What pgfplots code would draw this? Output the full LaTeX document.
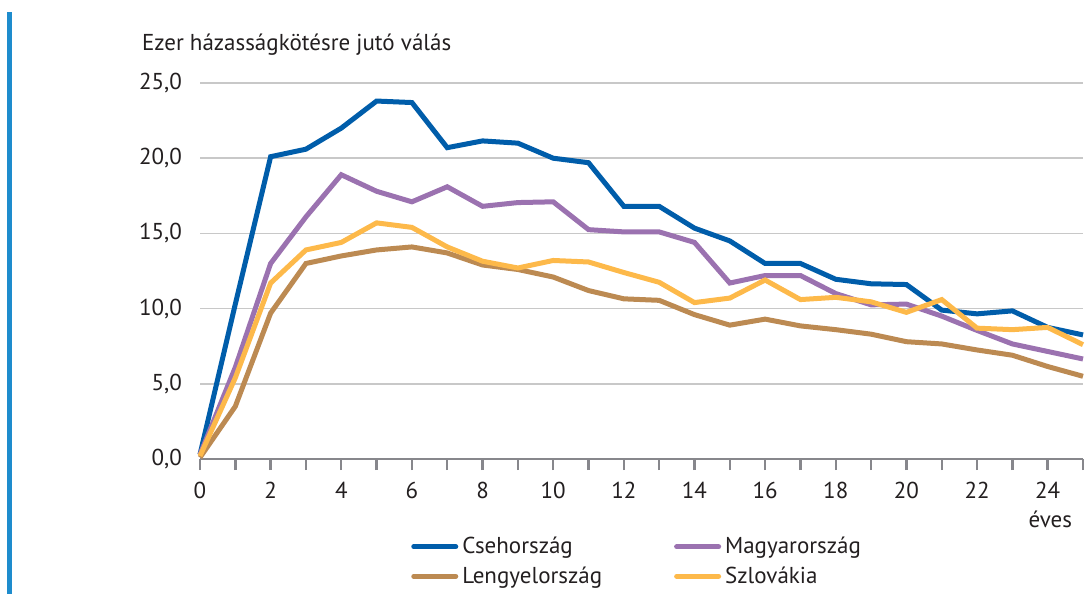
\documentclass[border=0pt]{standalone}
\usepackage{fontspec}
\setmainfont{PT Sans}
\usepackage{pgfplots}
\pgfplotsset{compat=1.18}
\usepackage{pgfplotstable}

\definecolor{cz}{RGB}{0,93,170}
\definecolor{hu}{RGB}{155,114,176}
\definecolor{pl}{RGB}{188,138,82}
\definecolor{sk}{RGB}{253,185,74}
\definecolor{gridgray}{RGB}{200,200,200}
\definecolor{axgray}{RGB}{135,135,140}
\definecolor{txt}{RGB}{35,31,32}
\definecolor{barblue}{RGB}{30,140,205}

% ev, Csehorszag, Magyarorszag, Lengyelorszag, Szlovakia
\pgfplotstableread{
x  cz    hu    pl    sk
0  0.3   0.3   0.1   0.2
1  10.3  6.1   3.5   5.4
2  20.1  13.0  9.7   11.7
3  20.6  16.1  13.0  13.9
4  22.0  18.9  13.5  14.4
5  23.8  17.8  13.9  15.7
6  23.7  17.1  14.1  15.4
7  20.7  18.1  13.7  14.1
8  21.15 16.8  12.9  13.15
9  21.0  17.05 12.6  12.7
10 20.0  17.1  12.1  13.2
11 19.7  15.25 11.2  13.1
12 16.8  15.1  10.65 12.4
13 16.8  15.1  10.55 11.75
14 15.35 14.4  9.6   10.4
15 14.5  11.7  8.9   10.7
16 13.0  12.2  9.3   11.9
17 13.0  12.2  8.85  10.6
18 11.95 11.0  8.6   10.75
19 11.65 10.25 8.3   10.45
20 11.6  10.3  7.8   9.75
21 9.9   9.5   7.65  10.6
22 9.65  8.55  7.25  8.7
23 9.85  7.65  6.9   8.6
24 8.75  7.15  6.15  8.75
25 8.25  6.65  5.5   7.6
}\divtable

\begin{document}
\begin{tikzpicture}[font=\fontsize{11.5}{13}\selectfont, text=txt]
\useasboundingbox (-100pt,-67.5pt) rectangle (442.5pt,229.5pt);
\fill[barblue] (-96.5pt,-67.5pt) rectangle (-94pt,223.5pt);
\begin{axis}[
    at={(0,0)}, anchor=south west,
    scale only axis,
    width=441.5pt, height=188pt,
    xmin=0, xmax=25, ymin=0, ymax=25,
    xtick={0,2,...,24},
    minor xtick={1,3,...,25},
    ytick={0,5,...,25},
    axis x line*=bottom,
    axis y line*=left,
    y axis line style={draw=none},
    x axis line style={draw=axgray, line width=1.4pt, -},
    tick style={draw=axgray, line width=1.2pt},
    xtick align=outside,
    major tick length=5.5pt, minor tick length=5.5pt,
    ymajorgrids,
    major grid style={draw=gridgray, line width=0.8pt},
    xticklabel style={/pgf/number format/assume math mode=true, yshift=-2.5pt},
    yticklabels={0{,}0,5{,}0,10{,}0,15{,}0,20{,}0,25{,}0},
    every tick label/.append style={font=\fontsize{11.5}{13}\selectfont, text=txt},
    ytick style={draw=none},
    y tick label style={xshift=-5.5pt},
    legend columns=2,
    legend cell align=left,
    legend style={at={(0.232,-0.185)}, anchor=north west, draw=none, fill=none,
        font=\fontsize{11.5}{13}\selectfont, text=txt,
        /tikz/every even column/.append style={column sep=34pt},
        row sep=1pt},
    legend image code/.code={\draw[#1, line cap=round] (0pt,0pt) -- (21pt,0pt);},
    every axis plot/.append style={line width=2.5pt, line join=miter},
    clip=false,
]
\addplot[cz] table[x=x, y=cz] {\divtable};
\addlegendentry{Csehország}
\addplot[hu] table[x=x, y=hu] {\divtable};
\addlegendentry{Magyarország}
\addplot[pl] table[x=x, y=pl] {\divtable};
\addlegendentry{Lengyelország}
\addplot[sk] table[x=x, y=sk] {\divtable};
\addlegendentry{Szlovákia}
\end{axis}
\node[anchor=west] at (-32.5pt,207pt) {Ezer házasságkötésre jutó válás};
\node[anchor=east] at (439.5pt,-30pt) {éves};
\end{tikzpicture}
\end{document}
